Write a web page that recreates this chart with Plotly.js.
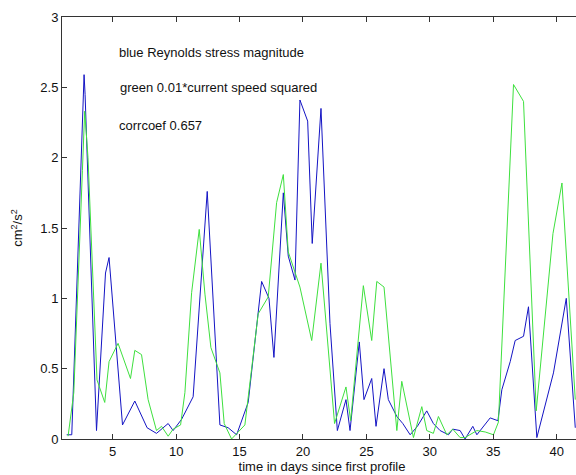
<!DOCTYPE html>
<html>
<head>
<meta charset="utf-8">
<script src="https://cdn.plot.ly/plotly-3.0.1.min.js"></script>
<style>
html, body { margin: 0; padding: 0; overflow: hidden; background: #ffffff; }
#chart { width: 600px; height: 475px; }
</style>
</head>
<body>
<div id="chart"></div>
<script>
// Blue: Reynolds stress magnitude
const blueDays = [1.37, 1.77, 2.74, 2.82, 3.72, 4.43, 4.71, 5.77, 6.74, 7.71, 8.45, 9.37, 9.76, 10.43, 11.34, 12.05, 12.45, 13.45, 14.10, 14.77, 15.68, 16.74, 17.32, 17.71, 18.45, 18.84, 19.37, 19.76, 20.37, 20.73, 21.42, 22.13, 22.71, 23.39, 23.71, 24.44, 24.81, 25.42, 25.76, 26.39, 26.73, 27.40, 27.87, 28.45, 29.02, 29.76, 30.28, 30.81, 31.47, 31.81, 32.39, 32.78, 33.39, 33.71, 34.76, 35.37, 35.68, 36.34, 36.73, 37.39, 37.78, 38.44, 39.75, 40.76, 41.47];
const blueValues = [0.03, 0.03, 2.59, 2.45, 0.06, 1.18, 1.29, 0.10, 0.27, 0.08, 0.04, 0.11, 0.06, 0.14, 0.30, 1.27, 1.76, 0.10, 0.08, 0.03, 0.26, 1.12, 1.00, 0.58, 1.75, 1.30, 1.13, 2.41, 2.26, 1.39, 2.35, 0.82, 0.06, 0.28, 0.06, 0.69, 0.28, 0.43, 0.09, 0.50, 0.28, 0.16, 0.11, 0.03, 0.09, 0.20, 0.11, 0.06, 0.03, 0.07, 0.06, 0.00, 0.09, 0.03, 0.15, 0.13, 0.35, 0.55, 0.70, 0.73, 0.94, 0.01, 0.47, 1.00, 0.08];

// Green: 0.01 * current speed squared
const greenDays = [1.48, 1.93, 2.61, 2.79, 3.05, 3.76, 4.37, 4.71, 5.42, 6.40, 6.74, 7.27, 7.79, 8.45, 8.85, 9.37, 9.76, 10.35, 10.69, 11.22, 11.82, 12.27, 12.74, 13.45, 13.79, 14.37, 15.42, 16.47, 17.26, 17.92, 18.45, 18.84, 19.76, 20.69, 21.42, 22.49, 23.39, 23.76, 24.76, 25.42, 25.82, 26.39, 27.40, 27.79, 28.71, 29.37, 29.76, 30.28, 30.68, 31.34, 31.81, 32.39, 32.78, 33.71, 34.37, 35.02, 35.41, 36.60, 37.39, 38.39, 39.71, 40.42, 41.47];
const greenValues = [0.02, 0.33, 1.91, 2.33, 2.00, 0.42, 0.26, 0.55, 0.68, 0.43, 0.63, 0.60, 0.28, 0.06, 0.09, 0.02, 0.07, 0.10, 0.33, 1.04, 1.49, 1.03, 0.65, 0.47, 0.11, 0.00, 0.10, 0.89, 1.01, 1.68, 1.88, 1.33, 1.08, 0.70, 1.25, 0.11, 0.37, 0.13, 1.09, 0.70, 1.12, 1.08, 0.06, 0.41, 0.01, 0.23, 0.06, 0.04, 0.16, 0.03, 0.07, 0.01, 0.01, 0.06, 0.05, 0.03, 0.12, 2.52, 2.40, 0.20, 1.46, 1.82, 0.28];

const xTicks = [5, 10, 15, 20, 25, 30, 35, 40];
const yTicks = [0, 0.5, 1, 1.5, 2, 2.5, 3];
const yTickLabels = ['0', '0.5', '1', '1.5', '2', '2.5', '3'];

const noteTexts = ['blue Reynolds stress magnitude', 'green 0.01*current speed squared', 'corrcoef 0.657'];
const noteX = [5.3, 5.45, 5.3];
const noteY = [2.75, 2.5, 2.23];

const fontFam = 'Liberation Sans, Arial, Helvetica, sans-serif';

const traces = [
  { x: blueDays, y: blueValues, type: 'scatter', mode: 'lines', line: { color: '#1414c4', width: 1 }, hoverinfo: 'x+y' },
  { x: greenDays, y: greenValues, type: 'scatter', mode: 'lines', line: { color: '#3ee03e', width: 1 }, hoverinfo: 'x+y' }
];

const annotations = noteTexts.map((t, i) => ({
  x: noteX[i], y: noteY[i], xref: 'x', yref: 'y', text: t, showarrow: false,
  xanchor: 'left', yanchor: 'middle', font: { family: fontFam, size: 13, color: '#111' }
}));

const axisCommon = {
  showgrid: false, zeroline: false, showline: true, linecolor: '#333', linewidth: 1,
  mirror: 'ticks', ticks: 'inside', ticklen: 5, tickcolor: '#333', tickwidth: 1,
  tickfont: { family: fontFam, size: 13, color: '#111' }
};

const layout = {
  width: 600, height: 475,
  margin: { l: 62, r: 18, t: 17, b: 36 },
  paper_bgcolor: '#ffffff', plot_bgcolor: '#ffffff',
  showlegend: false,
  xaxis: Object.assign({}, axisCommon, {
    range: [1, 42], tickvals: xTicks, ticktext: xTicks.map(String),
    title: { text: 'time in days since first profile', font: { family: fontFam, size: 13, color: '#111' }, standoff: 2 }
  }),
  yaxis: Object.assign({}, axisCommon, {
    range: [0, 3], tickvals: yTicks, ticktext: yTickLabels,
    title: { text: 'cm<sup>2</sup>/s<sup>2</sup>', font: { family: fontFam, size: 13, color: '#111' }, standoff: 14 }
  }),
  annotations: annotations
};

Plotly.newPlot('chart', traces, layout, { displayModeBar: false, staticPlot: true });
</script>
</body>
</html>
